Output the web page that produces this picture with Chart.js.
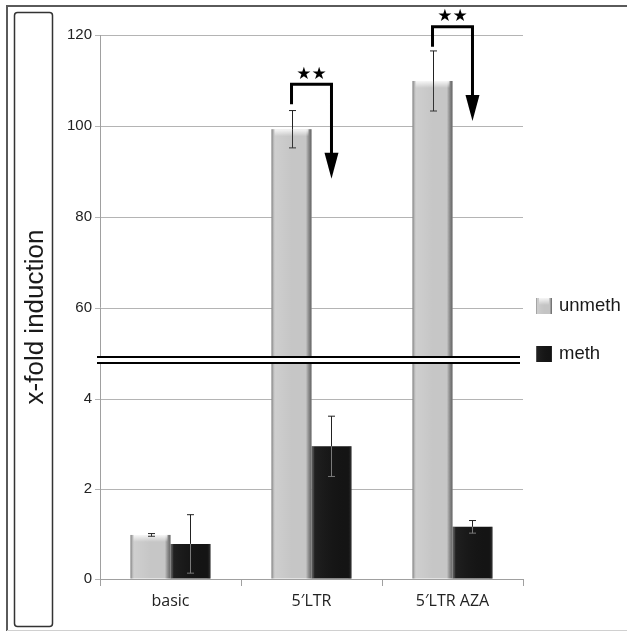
<!DOCTYPE html>
<html>
<head>
<meta charset="utf-8">
<script src="https://cdn.jsdelivr.net/npm/chart.js@4.4.1/dist/chart.umd.min.js"></script>
<style>
  html, body { margin: 0; padding: 0; background: #fff; }
  #wrap { width: 627px; height: 632px; position: relative; }
</style>
</head>
<body>
<div id="wrap"><canvas id="chart"></canvas></div>
<script>
// ---- data ----
const categories = ["basic", "5\u2032LTR", "5\u2032LTR AZA"];
const unmeth = [0.98, 99.3, 109.9];
const unmethErr = [0.03, 4.1, 6.6];
const meth = [0.78, 2.95, 1.16];
const methErr = [0.65, 0.67, 0.14];
const yTickValues = [0, 2, 4, 60, 80, 100, 120];

// significance brackets (value units, upper segment), null = none
const sigBottom = [null, 104.8, 117.4];
const sigTop = [null, 109.2, 121.8];
const sigArrowTip = [null, 88.4, 101.1];

// ---- broken y axis: 0..LOW_MAX below the break, HIGH_MIN..Y_MAX above ----
const LOW_MAX = 4.87;
const HIGH_MIN = 48.6;
const Y_MAX = 120;
const BREAK_FRAC = 0.4026;

const toDecimal = (v) => {
  if (v <= LOW_MAX) return (v / LOW_MAX) * BREAK_FRAC;
  if (v >= HIGH_MIN) return BREAK_FRAC + ((v - HIGH_MIN) / (Y_MAX - HIGH_MIN)) * (1 - BREAK_FRAC);
  return BREAK_FRAC;
};
const fromDecimal = (d) => {
  if (d <= BREAK_FRAC) return (d / BREAK_FRAC) * LOW_MAX;
  return HIGH_MIN + ((d - BREAK_FRAC) / (1 - BREAK_FRAC)) * (Y_MAX - HIGH_MIN);
};

class BrokenScale extends Chart.LinearScale {
  buildTicks() {
    return yTickValues.map((value) => ({ value }));
  }
  getPixelForValue(value) {
    return this.getPixelForDecimal(toDecimal(value));
  }
  getValueForPixel(pixel) {
    return fromDecimal(this.getDecimalForPixel(pixel));
  }
}
BrokenScale.id = "broken";
BrokenScale.defaults = Chart.LinearScale.defaults;
Chart.register(BrokenScale);

// frame + y title box
const framePlugin = {
  id: "frame",
  beforeDraw(chart) {
    const ctx = chart.ctx;
    ctx.save();
    ctx.fillStyle = "#fff";
    ctx.fillRect(0, 0, chart.width, chart.height);
    // outer frame
    ctx.strokeStyle = "#5a5a5a";
    ctx.lineWidth = 2;
    ctx.beginPath();
    ctx.moveTo(chart.width + 2, 6);
    ctx.lineTo(7, 6);
    ctx.lineTo(7, 631);
    ctx.stroke();
    ctx.strokeStyle = "#d0d0d0";
    ctx.lineWidth = 1;
    ctx.beginPath();
    ctx.moveTo(7, 630.5);
    ctx.lineTo(chart.width, 630.5);
    ctx.stroke();
    // title box
    ctx.strokeStyle = "#333";
    ctx.lineWidth = 1.5;
    ctx.beginPath();
    ctx.roundRect(14.5, 12.5, 38, 614, 3);
    ctx.stroke();
    // title
    ctx.translate(36, 317);
    ctx.rotate(-Math.PI / 2);
    ctx.fillStyle = "#1a1a1a";
    ctx.font = '26px "Liberation Sans", Arial, sans-serif';
    ctx.textAlign = "center";
    ctx.textBaseline = "middle";
    ctx.fillText("x-fold induction", 0, 0);
    ctx.restore();
  },
};

function shadeBar(ctx, x0, y0, w, h, dark) {
  const g = ctx.createLinearGradient(x0, 0, x0 + w, 0);
  if (dark) {
    g.addColorStop(0, "rgba(150,150,150,0.55)");
    g.addColorStop(0.08, "rgba(255,255,255,0.05)");
    g.addColorStop(0.9, "rgba(0,0,0,0)");
    g.addColorStop(1, "rgba(110,110,110,0.45)");
  } else {
    g.addColorStop(0, "rgba(70,70,70,0.6)");
    g.addColorStop(0.1, "rgba(255,255,255,0.15)");
    g.addColorStop(0.5, "rgba(255,255,255,0)");
    g.addColorStop(0.86, "rgba(0,0,0,0)");
    g.addColorStop(1, "rgba(50,50,50,0.65)");
  }
  ctx.fillStyle = g;
  ctx.fillRect(x0, y0, w, h);
  if (!dark) {
    const t = ctx.createLinearGradient(0, y0, 0, y0 + 7);
    t.addColorStop(0, "rgba(255,255,255,0.85)");
    t.addColorStop(1, "rgba(255,255,255,0)");
    ctx.fillStyle = t;
    ctx.fillRect(x0 + 3, y0, w - 6, 7);
  }
}

const overlayPlugin = {
  id: "overlay",
  afterDatasetsDraw(chart) {
    const ctx = chart.ctx;
    const y = chart.scales.y;
    const area = chart.chartArea;
    ctx.save();

    // bar shading
    chart.data.datasets.forEach((ds, di) => {
      chart.getDatasetMeta(di).data.forEach((el) => {
        const x0 = el.x - el.width / 2;
        shadeBar(ctx, x0, el.y, el.width, el.base - el.y, di === 1);
      });
    });

    // error bars
    const errs = [unmethErr, methErr];
    ctx.lineWidth = 1;
    chart.data.datasets.forEach((ds, di) => {
      chart.getDatasetMeta(di).data.forEach((el, i) => {
        const v = ds.data[i];
        const e = errs[di][i];
        const x = Math.round(el.x) + 0.5;
        const yTop = y.getPixelForValue(v + e);
        const yBot = y.getPixelForValue(v - e);
        ctx.strokeStyle = "#222";
        ctx.beginPath();
        ctx.moveTo(x, yTop);
        ctx.lineTo(x, el.y);
        ctx.moveTo(x - 3.5, yTop);
        ctx.lineTo(x + 3.5, yTop);
        ctx.stroke();
        // part inside the bar
        ctx.strokeStyle = di === 1 ? "#7a7a7a" : "#333";
        ctx.beginPath();
        ctx.moveTo(x, el.y);
        ctx.lineTo(x, yBot);
        ctx.moveTo(x - 3.5, yBot);
        ctx.lineTo(x + 3.5, yBot);
        ctx.stroke();
      });
    });

    // axis break (double line)
    const yb = y.getPixelForDecimal(BREAK_FRAC);
    ctx.fillStyle = "#fff";
    ctx.fillRect(area.left - 3, yb - 3.5, area.right - area.left, 7);
    ctx.strokeStyle = "#000";
    ctx.lineWidth = 2;
    ctx.beginPath();
    ctx.moveTo(area.left - 3, yb - 3);
    ctx.lineTo(area.right - 3, yb - 3);
    ctx.moveTo(area.left - 3, yb + 3);
    ctx.lineTo(area.right - 3, yb + 3);
    ctx.stroke();

    // significance brackets
    const m0 = chart.getDatasetMeta(0).data;
    const m1 = chart.getDatasetMeta(1).data;
    sigTop.forEach((top, i) => {
      if (top === null) return;
      const xl = m0[i].x;
      const xr = m1[i].x;
      const yBot = y.getPixelForValue(sigBottom[i]);
      const yTop = y.getPixelForValue(top);
      const yTip = y.getPixelForValue(sigArrowTip[i]);
      const headLen = 26;
      ctx.strokeStyle = "#000";
      ctx.lineWidth = 3;
      ctx.lineJoin = "miter";
      ctx.beginPath();
      ctx.moveTo(xl, yBot);
      ctx.lineTo(xl, yTop);
      ctx.lineTo(xr, yTop);
      ctx.lineTo(xr, yTip - headLen + 2);
      ctx.stroke();
      ctx.fillStyle = "#000";
      ctx.beginPath();
      ctx.moveTo(xr - 7, yTip - headLen);
      ctx.lineTo(xr + 7, yTip - headLen);
      ctx.lineTo(xr, yTip);
      ctx.closePath();
      ctx.fill();
      ctx.font = '17px "DejaVu Sans", sans-serif';
      ctx.textAlign = "center";
      ctx.textBaseline = "middle";
      ctx.fillText("\u2605\u2605", (xl + xr) / 2, yTop - 10);
    });

    // legend
    const items = [["unmeth", 306, false], ["meth", 354, true]];
    items.forEach(([label, cy, dark]) => {
      ctx.fillStyle = dark ? "#141414" : "#c4c4c4";
      ctx.fillRect(536, cy - 8, 16, 16);
      shadeBar(ctx, 536, cy - 8, 16, 16, dark);
      ctx.fillStyle = "#1a1a1a";
      ctx.font = '18.5px "Liberation Sans", Arial, sans-serif';
      ctx.textAlign = "left";
      ctx.textBaseline = "middle";
      ctx.fillText(label, 559, cy);
    });

    ctx.restore();
  },
};

new Chart(document.getElementById("chart"), {
  type: "bar",
  data: {
    labels: categories,
    datasets: [
      { label: "unmeth", data: unmeth, backgroundColor: "#c6c6c6" },
      { label: "meth", data: meth, backgroundColor: "#141414" },
    ],
  },
  options: {
    responsive: true,
    maintainAspectRatio: false,
    animation: false,
    events: [],
    barPercentage: 1.0,
    categoryPercentage: 0.567,
    layout: { padding: { left: 60, right: 104, top: 35, bottom: 13 } },
    plugins: { legend: { display: false }, tooltip: { enabled: false } },
    scales: {
      x: {
        grid: { drawOnChartArea: false, drawTicks: true, tickLength: 7, color: "#a0a0a0" },
        border: { color: "#a0a0a0" },
        ticks: {
          padding: 6,
          color: "#222",
          font: { family: '"Open Sans", sans-serif', size: 16 },
        },
        afterFit: (scale) => { scale.height = 40; },
      },
      y: {
        type: "broken",
        min: 0,
        max: Y_MAX,
        grid: { color: "#b4b4b4", tickLength: 5 },
        border: { color: "#a0a0a0" },
        ticks: {
          padding: 3,
          color: "#222",
          font: { family: '"Liberation Sans", Arial, sans-serif', size: 15 },
          callback: (v) => String(v),
        },
        afterFit: (scale) => { scale.width = 40; },
      },
    },
  },
  plugins: [framePlugin, overlayPlugin],
});
</script>
</body>
</html>
